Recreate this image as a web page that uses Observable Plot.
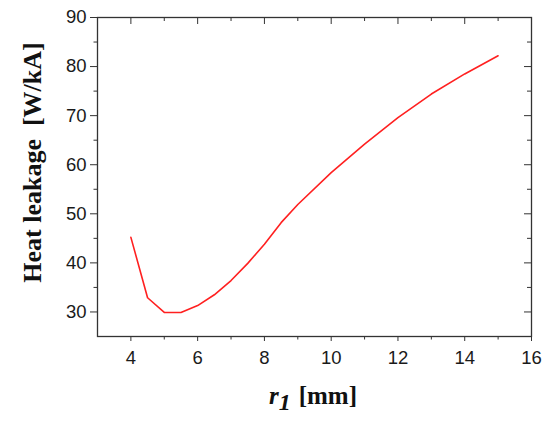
<!DOCTYPE html>
<html><head><meta charset="utf-8">
<script src="https://cdn.jsdelivr.net/npm/d3@7"></script>
<script src="https://cdn.jsdelivr.net/npm/@observablehq/plot@0.6"></script>
<style>body{margin:0;background:#fff}</style>
</head><body><div id="chart"></div>
<script>
const r1 = [4, 4.5, 5, 5.5, 6, 6.5, 7, 7.5, 8, 8.5, 9, 10, 11, 12, 13, 14, 15];
const heat = [45.2, 32.9, 29.9, 29.9, 31.3, 33.5, 36.4, 39.9, 43.8, 48.2, 51.9, 58.4, 64.2, 69.6, 74.4, 78.5, 82.2];
const xMajor = [4, 6, 8, 10, 12, 14, 16];
const xMinor = [5, 7, 9, 11, 13, 15];
const yMajor = [30, 40, 50, 60, 70, 80, 90];
const yMinor = [35, 45, 55, 65, 75, 85];
const yLabel = "Heat leakage  [W/kA]";

const W = 550, H = 421, mL = 97, mR = 19, mT = 17, mB = 85;
const pw = W - mL - mR, ph = H - mT - mB;
const data = r1.map((x, i) => ({x, y: heat[i]}));
const axisColor = "#333";

const svg = Plot.plot({
  width: W, height: H,
  marginLeft: mL, marginRight: mR, marginTop: mT, marginBottom: mB,
  style: {fontFamily: "'Liberation Sans', Arial, sans-serif", fontSize: "18px", color: "#1a1a1a", background: "#fff"},
  x: {domain: [3, 16], axis: null},
  y: {domain: [25, 90], axis: null},
  marks: [
    Plot.axisX(xMajor, {anchor: "bottom", tickSize: 5, tickPadding: 9, fontSize: 18.5, label: null, stroke: axisColor}),
    Plot.axisX(xMinor, {anchor: "bottom", tickSize: 3.5, tickFormat: () => "", label: null, stroke: axisColor}),
    Plot.axisY(yMajor, {anchor: "left", tickSize: 7, tickPadding: 4, fontSize: 18.5, label: null, stroke: axisColor}),
    Plot.axisY(yMinor, {anchor: "left", tickSize: 3.5, tickFormat: () => "", label: null, stroke: axisColor}),
    Plot.tickX(xMajor, {x: d => d, insetBottom: ph - 7, stroke: axisColor}),
    Plot.tickX(xMinor, {x: d => d, insetBottom: ph - 4, stroke: axisColor}),
    Plot.tickY(yMajor, {y: d => d, insetLeft: pw - 7, stroke: axisColor}),
    Plot.tickY(yMinor, {y: d => d, insetLeft: pw - 4, stroke: axisColor}),
    Plot.line(data, {x: "x", y: "y", stroke: "#ff2020", strokeWidth: 1.6}),
    Plot.frame({stroke: axisColor, strokeWidth: 1.3})
  ]
});

const s = d3.select(svg);
s.append("text")
  .attr("transform", "translate(41,162.5) rotate(-90)")
  .attr("text-anchor", "middle")
  .attr("fill", "#111")
  .style("font-family", "'Liberation Serif', 'Times New Roman', serif")
  .style("font-weight", "bold")
  .style("font-size", "26px")
  .style("white-space", "pre")
  .text(yLabel);

const xl = s.append("text")
  .attr("x", 313).attr("y", 404)
  .attr("text-anchor", "middle")
  .attr("fill", "#111")
  .style("font-family", "'Liberation Serif', 'Times New Roman', serif")
  .style("font-weight", "bold")
  .style("font-size", "25px");
xl.append("tspan").style("font-style", "italic").text("r");
xl.append("tspan").style("font-style", "italic").style("font-size", "24px").attr("dy", 6).text("1");
xl.append("tspan").attr("dy", -6).attr("dx", 8).text("[mm]");

document.getElementById("chart").appendChild(svg);
</script>
</body></html>
